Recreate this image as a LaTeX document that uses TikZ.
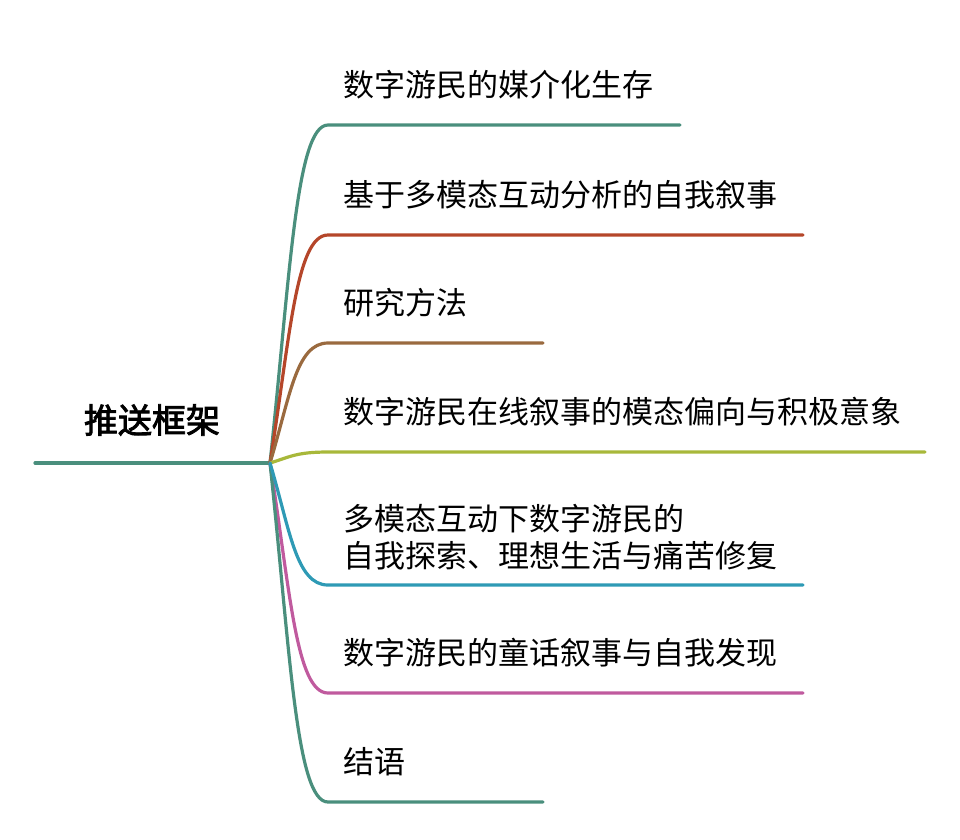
\documentclass[tikz,border=0pt]{standalone}
\usepackage{fontspec}
\newfontfamily\cjk{Noto Sans CJK SC}
\newfontfamily\cjkbold[FakeBold=2.5]{Noto Sans CJK SC}
\definecolor{cteal}{HTML}{4A8F7D}
\definecolor{cred}{HTML}{B5462A}
\definecolor{cbrown}{HTML}{9A6A3F}
\definecolor{colive}{HTML}{A8B83A}
\definecolor{cblue}{HTML}{2E9AB5}
\definecolor{cpink}{HTML}{C05A9E}
\tikzset{
  topic/.style={anchor=west,inner sep=0pt,font=\fontsize{31}{37}\selectfont\cjk,align=left},
  branch/.style={line width=3.2pt,line cap=round}
}
\begin{document}
\begin{tikzpicture}[x=1pt,y=-1pt]
  \useasboundingbox (0,0) rectangle (960,839);
  % root
  \coordinate (rl) at (35,463);
  \coordinate (r) at (270,463);
  \draw [branch,color=cteal] (rl) -- (r);
  \node (root) at (152,420) {\fontsize{34}{40}\selectfont\cjkbold 推送框架};
  % branches
  \foreach \n/\y/\e/\c/\t in {
    a/125/680/cteal/数字游民的媒介化生存,
    b/235/803/cred/基于多模态互动分析的自我叙事,
    c/343/543/cbrown/研究方法,
    d/452/925/colive/数字游民在线叙事的模态偏向与积极意象,
    f/693/803/cpink/数字游民的童话叙事与自我发现,
    g/802/543/cteal/结语}
  {
    \coordinate (\n s) at (328,\y);
    \coordinate (\n e) at (\e,\y);
    \draw [branch,color=\c] (r) .. controls (290,{\y+0.45*(463-\y)}) and (296,\y) .. (\n s) -- (\n e);
    \node [topic] (\n) at (343,\y-40) {\t};
  }
  \coordinate (es) at (328,585);
  \coordinate (ee) at (803,585);
  \draw [branch,color=cblue] (r) .. controls (290,530) and (296,585) .. (es) -- (ee);
  \node [topic] (e) at (343,537) {多模态互动下数字游民的\\自我探索、理想生活与痛苦修复};
\end{tikzpicture}
\end{document}
